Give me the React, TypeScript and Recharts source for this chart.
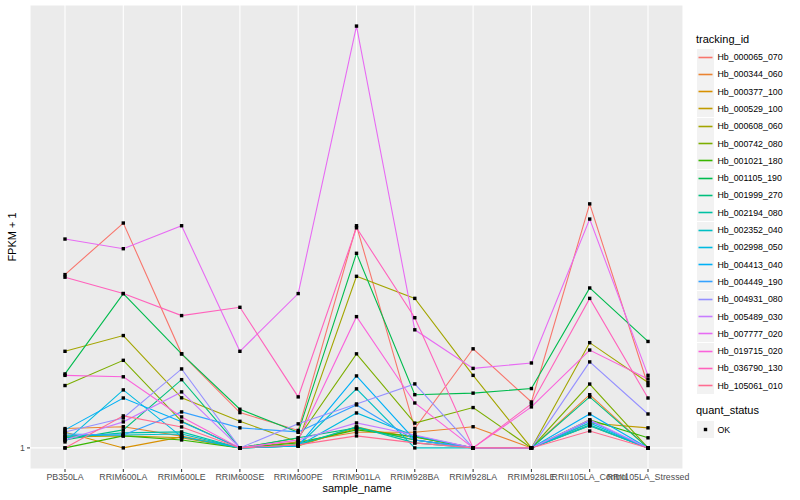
import { LineChart, Line, XAxis, YAxis, CartesianGrid } from 'recharts';

// FPKM + 1 per sample, one array per tracking_id (log10 y scale)
const sampleNames = [
  'PB350LA', 'RRIM600LA', 'RRIM600LE', 'RRIM600SE', 'RRIM600PE', 'RRIM901LA',
  'RRIM928BA', 'RRIM928LA', 'RRIM928LE', 'RRII105LA_Control', 'RRII105LA_Stressed',
];

const hb000065_070 = [2.35, 3.03, 1.59, 1.19, 1.09, 2.99, 1.10, 1.63, 1.254, 3.33, 1.36];
const hb000344_060 = [1.10, 1.11, 1.06, 1.00, 1.03, 1.08, 1.08, 1.11, 1.00, 1.30, 1.00];
const hb000377_100 = [1.08, 1.00, 1.056, 1.00, 1.015, 1.10, 1.056, 1.00, 1.00, 1.115, 1.00];
const hb000529_100 = [1.056, 1.061, 1.051, 1.00, 1.01, 1.109, 1.04, 1.00, 1.00, 1.131, 1.104];
const hb000608_060 = [1.61, 1.74, 1.28, 1.14, 1.03, 2.33, 2.09, 1.43, 1.00, 1.68, 1.38];
const hb000742_080 = [1.36, 1.54, 1.14, 1.00, 1.05, 1.59, 1.13, 1.22, 1.00, 1.37, 1.00];
const hb001021_180 = [1.00, 1.061, 1.04, 1.00, 1.025, 1.093, 1.056, 1.00, 1.00, 1.148, 1.051];
const hb001105_190 = [1.44, 2.14, 1.59, 1.21, 1.08, 2.61, 1.30, 1.31, 1.34, 2.20, 1.69];
const hb001999_270 = [1.04, 1.093, 1.40, 1.00, 1.051, 1.104, 1.04, 1.00, 1.00, 1.286, 1.00];
const hb002194_080 = [1.051, 1.077, 1.082, 1.00, 1.015, 1.109, 1.025, 1.00, 1.00, 1.12, 1.00];
const hb002352_040 = [1.061, 1.066, 1.071, 1.00, 1.01, 1.338, 1.00, 1.00, 1.00, 1.115, 1.00];
const hb002998_050 = [1.03, 1.331, 1.056, 1.00, 1.01, 1.188, 1.061, 1.00, 1.00, 1.131, 1.00];
const hb004413_040 = [1.093, 1.279, 1.137, 1.00, 1.01, 1.426, 1.04, 1.00, 1.00, 1.182, 1.00];
const hb004449_190 = [1.071, 1.066, 1.194, 1.104, 1.082, 1.236, 1.04, 1.00, 1.00, 1.142, 1.00];
const hb004931_080 = [1.082, 1.159, 1.476, 1.00, 1.126, 1.242, 1.371, 1.00, 1.00, 1.528, 1.182];
const hb005489_030 = [1.04, 1.137, 1.318, 1.00, 1.04, 1.131, 1.066, 1.00, 1.00, 1.148, 1.00];
const hb007777_020 = [2.80, 2.67, 2.99, 1.61, 2.14, 8.00, 1.79, 1.48, 1.52, 3.09, 1.43];
const hb019715_020 = [1.43, 1.42, 1.165, 1.00, 1.04, 1.91, 1.248, 1.00, 1.224, 1.62, 1.405];
const hb036790_130 = [2.32, 2.14, 1.92, 2.00, 1.286, 2.96, 1.90, 1.00, 1.242, 2.09, 1.279];
const hb105061_010 = [1.00, 1.171, 1.109, 1.00, 1.015, 1.061, 1.025, 1.00, 1.00, 1.087, 1.00];

const yTicks = [1];

const series = [
  { id: 'Hb_000065_070', color: '#F8766D', values: hb000065_070 },
  { id: 'Hb_000344_060', color: '#EA8331', values: hb000344_060 },
  { id: 'Hb_000377_100', color: '#D89000', values: hb000377_100 },
  { id: 'Hb_000529_100', color: '#C09B00', values: hb000529_100 },
  { id: 'Hb_000608_060', color: '#A3A500', values: hb000608_060 },
  { id: 'Hb_000742_080', color: '#7CAE00', values: hb000742_080 },
  { id: 'Hb_001021_180', color: '#39B600', values: hb001021_180 },
  { id: 'Hb_001105_190', color: '#00BB4E', values: hb001105_190 },
  { id: 'Hb_001999_270', color: '#00BF7D', values: hb001999_270 },
  { id: 'Hb_002194_080', color: '#00C1A3', values: hb002194_080 },
  { id: 'Hb_002352_040', color: '#00BFC4', values: hb002352_040 },
  { id: 'Hb_002998_050', color: '#00BAE0', values: hb002998_050 },
  { id: 'Hb_004413_040', color: '#00B0F6', values: hb004413_040 },
  { id: 'Hb_004449_190', color: '#35A2FF', values: hb004449_190 },
  { id: 'Hb_004931_080', color: '#9590FF', values: hb004931_080 },
  { id: 'Hb_005489_030', color: '#C77CFF', values: hb005489_030 },
  { id: 'Hb_007777_020', color: '#E76BF3', values: hb007777_020 },
  { id: 'Hb_019715_020', color: '#FA62DB', values: hb019715_020 },
  { id: 'Hb_036790_130', color: '#FF62BC', values: hb036790_130 },
  { id: 'Hb_105061_010', color: '#FF6C91', values: hb105061_010 },
];

const chartData = sampleNames.map((name, i) => {
  const row: Record<string, string | number> = { sample_name: name };
  series.forEach(s => { row[s.id] = s.values[i]; });
  return row;
});

// ggplot-style 5% expansion on the log scale
const maxVal = Math.max(...series.flatMap(s => s.values));
const span = Math.log10(maxVal);
const yDomain = [Math.pow(10, -0.05 * span), Math.pow(10, 1.05 * span)];

const FONT = '"Liberation Sans", Arial, Helvetica, sans-serif';

const squareDot = (props: any) => {
  const { cx, cy, index, dataKey } = props;
  if (cx == null || cy == null) return <g key={`${dataKey}-${index}`} />;
  return <rect key={`${dataKey}-${index}`} x={cx - 1.7} y={cy - 1.7} width={3.4} height={3.4} fill="#000" />;
};

export default function App() {
  return (
    <div style={{ position: 'absolute', left: 0, top: 0, width: 800, height: 500, background: '#fff', fontFamily: FONT }}>
      <LineChart width={800} height={500} data={chartData} margin={{ top: 5, right: 117, bottom: 0, left: 8 }}>
        <CartesianGrid fill="#EBEBEB" stroke="#FFFFFF" strokeWidth={1.1} />
        <XAxis
          dataKey="sample_name"
          interval={0}
          height={31}
          padding={{ left: 35, right: 35 }}
          axisLine={false}
          tickSize={3}
          tickMargin={2}
          tickLine={{ stroke: '#333333' }}
          tick={{ fontSize: 8.8, fill: '#4D4D4D', fontFamily: FONT }}
        />
        <YAxis
          type="number"
          scale="log"
          domain={yDomain}
          allowDataOverflow
          ticks={yTicks}
          width={22}
          axisLine={false}
          tickSize={3}
          tickMargin={2}
          tickLine={{ stroke: '#333333' }}
          tick={{ fontSize: 8.8, fill: '#4D4D4D', fontFamily: FONT }}
        />
        {series.map(s => (
          <Line
            key={s.id}
            type="linear"
            dataKey={s.id}
            stroke={s.color}
            strokeWidth={1.1}
            dot={false}
            activeDot={false}
            isAnimationActive={false}
          />
        ))}
        {series.map(s => (
          <Line
            key={`${s.id}-pts`}
            type="linear"
            dataKey={s.id}
            stroke="none"
            dot={squareDot}
            activeDot={false}
            legendType="none"
            isAnimationActive={false}
          />
        ))}
      </LineChart>

      <div style={{ position: 'absolute', left: 322, top: 482, fontSize: 11, color: '#000', width: 70, textAlign: 'center' }}>
        sample_name
      </div>
      <div
        style={{
          position: 'absolute', left: 12, top: 237, fontSize: 11, color: '#000', whiteSpace: 'nowrap',
          transform: 'translate(-50%, -50%) rotate(-90deg)',
        }}
      >
        FPKM + 1
      </div>

      <div style={{ position: 'absolute', left: 696, top: 33, fontSize: 11, color: '#000' }}>tracking_id</div>
      {series.map((s, i) => (
        <div key={s.id} style={{ position: 'absolute', left: 697, top: 48.5 + i * 17.3, height: 17, display: 'flex', alignItems: 'center' }}>
          <svg width={17} height={17} style={{ display: 'block' }}>
            <rect x={0} y={0} width={17} height={17} fill="#F2F2F2" />
            <line x1={1.5} x2={15.5} y1={8.5} y2={8.5} stroke={s.color} strokeWidth={1.6} />
          </svg>
          <span style={{ marginLeft: 3.5, fontSize: 8.8, color: '#000' }}>{s.id}</span>
        </div>
      ))}

      <div style={{ position: 'absolute', left: 696, top: 404, fontSize: 11, color: '#000' }}>quant_status</div>
      <div style={{ position: 'absolute', left: 697, top: 421, height: 17, display: 'flex', alignItems: 'center' }}>
        <svg width={17} height={17} style={{ display: 'block' }}>
          <rect x={0} y={0} width={17} height={17} fill="#F2F2F2" />
          <rect x={6.8} y={6.8} width={3.4} height={3.4} fill="#000" />
        </svg>
        <span style={{ marginLeft: 3.5, fontSize: 8.8, color: '#000' }}>OK</span>
      </div>
    </div>
  );
}
